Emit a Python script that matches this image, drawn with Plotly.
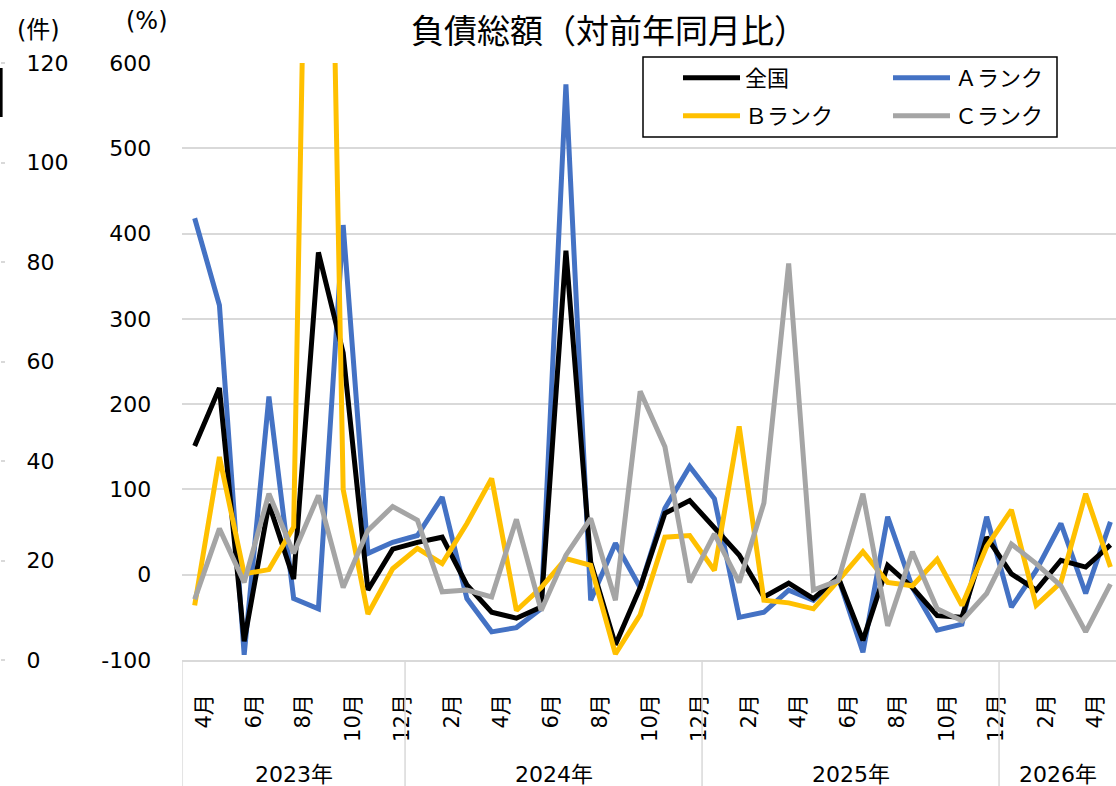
import plotly.graph_objects as go

# ---- data ----
years = ["2023年", "2024年", "2025年", "2026年"]
months_by_year = [
    [4, 5, 6, 7, 8, 9, 10, 11, 12],
    [1, 2, 3, 4, 5, 6, 7, 8, 9, 10, 11, 12],
    [1, 2, 3, 4, 5, 6, 7, 8, 9, 10, 11, 12],
    [1, 2, 3, 4, 5],
]

zenkoku = [151, 219, -78, 83, -5, 378, 260, -18, 30, 38, 44, -12, -44, -51, -38, 380,
           15, -82, -15, 72, 87, 54, 23, -26, -10, -28, -3, -77, 11, -15, -48, -50,
           44, 1, -18, 17, 9, 35]
rank_a = [418, 316, -94, 209, -28, -40, 410, 25, 38, 46, 91, -28, -67, -62, -40, 575,
          -30, 37, -15, 78, 127, 89, -50, -44, -18, -30, -3, -91, 68, -15, -65, -58,
          68, -38, 5, 60, -22, 62]
rank_b = [-36, 138, 1, 6, 56, 1640, 100, -46, 7, 31, 13, 60, 113, -42, -15, 19,
          11, -93, -47, 44, 46, 5, 174, -30, -33, -40, -7, 27, -9, -13, 18, -36,
          33, 76, -36, -9, 95, 9]
rank_c = [-29, 54, -9, 95, 25, 93, -15, 52, 80, 64, -20, -18, -26, 65, -42, 23,
          66, -30, 215, 150, -9, 48, -9, 84, 365, -18, -7, 95, -60, 27, -40, -54,
          -22, 36, 13, -13, -67, -11]

series_names = ["全国", "Ａランク", "Ｂランク", "Ｃランク"]
series_colors = ["#000000", "#4472C4", "#FFC000", "#A5A5A5"]
legend_rows = ["legend", "legend", "legend2", "legend2"]

left_count_ticks = [0, 20, 40, 60, 80, 100, 120]
pct_ticks = [-100, 0, 100, 200, 300, 400, 500, 600]
pct_range = [-100, 600]

# ---- categories ----
cat_month = []
for ms in months_by_year:
    cat_month.extend(ms)
n = len(cat_month)
xs = list(range(n))
tickvals = [i for i in xs if i % 2 == 0]
ticktext = [f"{cat_month[i]}月" for i in tickvals]

FONT = "DejaVu Sans, Noto Sans CJK JP"
JFONT = "Noto Sans CJK JP"

W, H = 1116, 786
M_T, M_B = 50, 126
PH = H - M_T - M_B            # paper height (610)
Y0 = H - M_B                  # pixel row of paper y=0 (660)


def py(ypix):
    return (Y0 - ypix) / PH


fig = go.Figure()
data = {"全国": zenkoku, "Ａランク": rank_a, "Ｂランク": rank_b, "Ｃランク": rank_c}
draw_order = ["Ａランク", "全国", "Ｂランク", "Ｃランク"]
for name in draw_order:
    k = series_names.index(name)
    fig.add_trace(go.Scatter(
        x=xs, y=data[name], mode="lines", name=name,
        line=dict(color=series_colors[k], width=5),
        legend=legend_rows[k], legendrank=k + 1,
    ))

fig.add_trace(go.Scatter(x=[None], y=[None], yaxis="y2", showlegend=False,
                         hoverinfo="skip"))

plot_left = 182.3
dom_left = plot_left / W
spacing = 24.75
x_right = -0.5 + (W - plot_left) / spacing

shapes = []
bounds = [-0.5]
c = -0.5
for ms in months_by_year:
    c += len(ms)
    bounds.append(c)
for b in bounds[:-1]:
    shapes.append(dict(type="line", xref="x", yref="paper", x0=b, x1=b,
                       y0=0, y1=py(H), line=dict(color="#d9d9d9", width=1.5)))
shapes.append(dict(type="line", xref="paper", yref="paper", x0=0.001, x1=0.001,
                   y0=py(68), y1=py(117), line=dict(color="#000000", width=3)))
# legend frame
shapes.append(dict(type="rect", xref="paper", yref="paper",
                   x0=643 / W, x1=1057 / W, y0=py(57), y1=py(137),
                   line=dict(color="#000000", width=1.5), fillcolor="white",
                   layer="above"))

annotations = []
for yi, yname in enumerate(years):
    cx = (bounds[yi] + min(bounds[yi + 1], x_right)) / 2
    annotations.append(dict(text=yname, x=cx, xref="x", y=py(775), yref="paper",
                            showarrow=False, font=dict(size=22, family=FONT, color="#000"),
                            xanchor="center", yanchor="middle"))
annotations.append(dict(text="(%)", x=147 / W, xref="paper", y=py(21), yref="paper",
                        showarrow=False, font=dict(size=24, family=FONT, color="#000"),
                        xanchor="center", yanchor="middle"))
annotations.append(dict(text="(件)", x=38 / W, xref="paper", y=py(30), yref="paper",
                        showarrow=False, font=dict(size=24, family=FONT, color="#000"),
                        xanchor="center", yanchor="middle"))

legend_common = dict(orientation="h", xanchor="left", yanchor="top",
                     borderwidth=0, bgcolor="rgba(0,0,0,0)",
                     font=dict(size=22, family=JFONT, color="#000"),
                     itemwidth=57, entrywidth=138, entrywidthmode="pixels",
                     traceorder="normal")

fig.update_layout(
    width=W, height=H,
    margin=dict(l=0, r=0, t=M_T, b=M_B),
    paper_bgcolor="white", plot_bgcolor="white",
    title=dict(text="負債総額（対前年同月比）", x=609 / W, xanchor="center",
               y=1 - 31 / H, yanchor="middle",
               font=dict(size=33, family=JFONT, color="#000")),
    xaxis=dict(domain=[dom_left, 1], range=[-0.5, x_right], tickmode="array",
               tickvals=tickvals, ticktext=ticktext, tickangle=-90,
               showgrid=False, zeroline=False, showline=True, linecolor="#d9d9d9",
               linewidth=1.5, ticks="", tickfont=dict(size=21, family=FONT, color="#000"),
               ticklabelshift=10, ticklabelstandoff=24, automargin=False),
    yaxis=dict(domain=[0, (Y0 - 63) / PH], range=pct_range, tickmode="array",
               tickvals=pct_ticks, ticktext=[str(v) for v in pct_ticks],
               showgrid=True, gridcolor="#d9d9d9",
               gridwidth=1.5, zeroline=False, showline=False, ticks="",
               tickfont=dict(size=22, family=FONT, color="#000"),
               ticklabelstandoff=30, automargin=False),
    yaxis2=dict(overlaying="y", anchor="free", position=0.0, side="right",
                range=[0, 120], tickmode="array", tickvals=left_count_ticks,
                showgrid=False, zeroline=False, showline=False,
                ticks="outside", ticklen=4, tickcolor="#d9d9d9", tickwidth=1.5,
                tickfont=dict(size=22, family=FONT, color="#000"),
                ticklabelstandoff=17, automargin=False),
    legend=dict(x=678 / W, y=py(57), **legend_common),
    legend2=dict(x=678 / W, y=py(95), **legend_common),
    shapes=shapes, annotations=annotations,
    showlegend=True,
)

fig.write_html("out.html",
               config={"displayModeBar": False},
               post_script="document.body.style.margin='0px';"
                           "document.body.style.overflow='hidden';")
